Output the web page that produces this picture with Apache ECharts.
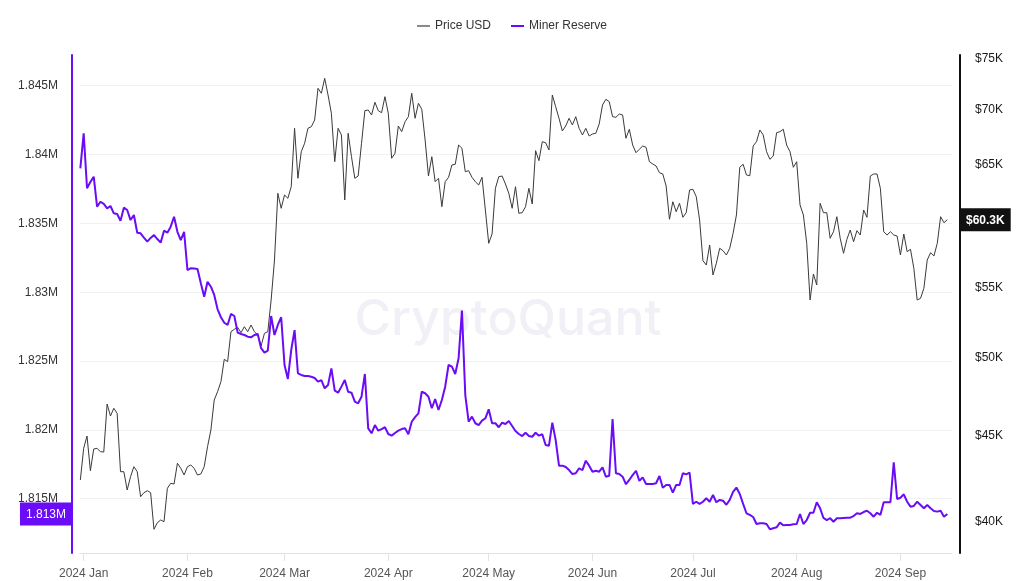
<!DOCTYPE html>
<html>
<head>
<meta charset="utf-8">
<script src="https://cdn.jsdelivr.net/npm/echarts@6/dist/echarts.min.js"></script>
<style>
html,body{margin:0;padding:0;background:#ffffff;}
#chart{width:1024px;height:581px;}
</style>
</head>
<body>
<div id="chart"></div>
<script>
// ---- data (daily, starting 2023-12-31) ----
const startDate = '2023-12-31';
const monthTicks = ['2024-01-01','2024-02-01','2024-03-01','2024-04-01','2024-05-01','2024-06-01','2024-07-01','2024-08-01','2024-09-01'];
const monthNames = ['Jan','Feb','Mar','Apr','May','Jun','Jul','Aug','Sep','Oct','Nov','Dec'];
const reserveTicks = [1815000,1820000,1825000,1830000,1835000,1840000,1845000];
const priceTicks = [40000,45000,50000,55000,60000,65000,70000,75000];

const minerReserve = [
1839000,1841540,1837550,1838000,1838390,1836210,1836570,1836410,1836090,1836260,
1835730,1835680,1835190,1836140,1835970,1835240,1835610,1834320,1834280,1833970,
1833670,1833940,1834150,1833860,1833600,1834470,1834320,1834760,1835480,1834390,
1833790,1834390,1831610,1831740,1831720,1831690,1830650,1829670,1830760,1830400,
1829800,1828760,1828180,1827780,1827620,1828420,1828270,1827060,1826960,1826890,
1826770,1826720,1826890,1826960,1825930,1825610,1825750,1828270,1826890,1827620,
1828180,1824710,1823700,1825800,1827250,1824110,1823990,1823910,1823910,1823860,
1823770,1823500,1823620,1823020,1823260,1824470,1822850,1822700,1823140,1823620,
1822770,1822700,1822050,1821930,1822410,1824060,1820110,1819750,1820350,1819940,
1820060,1820190,1819700,1819580,1819770,1819940,1820060,1820110,1819680,1820590,
1820930,1821200,1822770,1822660,1822410,1821570,1822240,1821440,1822170,1823140,
1824710,1824590,1824060,1825200,1828660,1822530,1820590,1820960,1820480,1820350,
1820670,1820840,1821490,1820480,1820480,1820190,1820520,1820430,1820640,1820280,
1819920,1819700,1819550,1819790,1819550,1819500,1819790,1819580,1819680,1818900,
1818850,1820520,1819260,1817400,1817400,1817300,1817080,1816790,1816850,1817210,
1817080,1817760,1817400,1816960,1817030,1816960,1817280,1816600,1816670,1820790,
1816850,1816790,1816600,1816050,1816360,1816720,1817030,1816290,1816550,1816070,
1816070,1816070,1816120,1816650,1815800,1816000,1816000,1815440,1816000,1816000,
1816850,1816770,1816890,1814620,1814780,1814620,1814780,1815030,1814780,1815270,
1814740,1814910,1814850,1814560,1814910,1815490,1815810,1815340,1814620,1813940,
1813820,1813670,1813160,1813210,1813210,1813160,1812780,1812850,1812920,1813260,
1813070,1813090,1813090,1813140,1813160,1813890,1813160,1813450,1813980,1813980,
1814740,1814300,1813600,1813450,1813580,1813330,1813580,1813580,1813600,1813620,
1813620,1813740,1813940,1813890,1814030,1814130,1813940,1813690,1813980,1813820,
1814740,1814740,1814740,1817640,1814980,1815070,1815320,1814780,1814420,1814470,
1814780,1814540,1814300,1814540,1814300,1814110,1814060,1814130,1813690,1813890
];

const priceUsd = [
42348,44210,44954,42885,44168,44210,44006,43988,46951,46192,
46677,46362,42828,42828,41776,42538,43119,42828,41398,41623,
41737,41623,39606,39962,40109,40016,41873,42158,42118,43318,
43025,42636,43119,43218,43025,42636,42694,43119,44306,45322,
47206,47742,48394,49888,49726,51794,51962,52104,51723,52146,
51794,52267,51794,51562,50798,51681,51794,54071,57089,62501,
61241,62357,62078,63064,68269,63787,66133,66892,68269,68417,
69042,72079,71592,73064,71426,69673,65241,68269,67650,61936,
67807,65686,63787,63986,66892,69920,69986,69512,70722,69920,
69730,71262,69673,65543,65990,68482,67954,68883,69353,71592,
69202,70626,70053,67192,63986,65686,63493,63787,61374,63493,
63874,64950,65012,66737,66439,64361,64449,63874,63493,63209,
63874,61100,58398,59140,62927,63926,63986,63295,62501,61241,
63064,60826,60876,61374,62927,61600,66223,65330,67037,66946,
66286,71426,70300,69202,68018,68482,69202,68576,69353,68269,
67650,68269,67558,67742,67807,68668,70463,71011,70780,69353,
69296,69608,69512,67348,68176,66737,66044,66349,66646,66529,
65241,65038,64862,64274,64161,63123,60333,61793,60959,61658,
60497,60876,62781,62841,62213,60276,57035,56703,58264,55938,
56834,58003,57815,57478,58003,59197,60687,64747,65012,64074,
64013,66646,67037,68111,67650,66133,65454,65749,67862,67954,
68176,66737,66133,64747,65241,61516,60687,58398,54071,56014,
55184,61658,60876,60876,58796,59326,60547,58796,57611,58716,
59463,58526,59406,59060,61100,60497,63986,64161,64161,62927,
59326,59060,59326,59060,58980,57478,59140,57736,57925,56449,
54071,54196,54937,57089,57658,57400,58398,60547,60055,60300
];

// ---- build ----
const DAY = 86400000;
const t0 = Date.parse(startDate + 'T00:00:00Z');
const days = minerReserve.map((_, i) => t0 + i * DAY);
const tickTimes = monthTicks.map(s => Date.parse(s + 'T00:00:00Z'));
const priceTickLogs = priceTicks.map(v => Math.log(v));
const lastReserve = minerReserve[minerReserve.length - 1];
const lastPrice = priceUsd[priceUsd.length - 1];

const PURPLE = '#6a0cf5';
const FONT = '"Liberation Sans", Arial, sans-serif';

const chart = echarts.init(document.getElementById('chart'), null, {renderer: 'canvas'});
chart.setOption({
  animation: false,
  backgroundColor: '#ffffff',
  textStyle: {fontFamily: FONT},
  graphic: [{
    type: 'text', x: 508, y: 320, z: -10, silent: true,
    style: {text: 'CryptoQuant', fontSize: 50, fontFamily: 'Inter, "Open Sans", sans-serif', fontWeight: 500,
            fill: '#f1f0f6', align: 'center', verticalAlign: 'middle'}
  }],
  legend: {
    top: 15, left: 'center', icon: 'rect', itemWidth: 13, itemHeight: 2, itemGap: 20,
    textStyle: {fontSize: 12, color: '#333', fontFamily: FONT},
    data: [{name: 'Price USD', itemStyle: {color: '#8a8a8a'}}, {name: 'Miner Reserve'}]
  },
  grid: {left: 80, right: 72, top: 55, bottom: 28, containLabel: false, outerBoundsMode: 'none'},
  xAxis: {
    type: 'value',
    min: t0 - 0.1 * DAY,
    max: t0 + 260.4 * DAY,
    axisLine: {show: true, lineStyle: {color: '#e3e3e3', width: 1}},
    axisTick: {show: true, length: 8, lineStyle: {color: '#e3e3e3'}, customValues: tickTimes},
    axisLabel: {
      customValues: tickTimes, color: '#555', fontSize: 12, margin: 15, fontFamily: FONT,
      formatter: v => { const d = new Date(v); return d.getUTCFullYear() + ' ' + monthNames[d.getUTCMonth()]; }
    },
    splitLine: {show: false}
  },
  yAxis: [{
    type: 'value', position: 'left', offset: 8,
    min: 1811055, max: 1847230,
    axisLine: {show: true, lineStyle: {color: PURPLE, width: 2}},
    axisTick: {show: false, customValues: reserveTicks},
    axisLabel: {customValues: reserveTicks, color: '#333', fontSize: 12, margin: 14, fontFamily: FONT,
      formatter: v => +(v / 1e6).toFixed(3) + 'M'},
    splitLine: {show: true, lineStyle: {color: '#f1f1f1', width: 1}},
    axisPointer: {
      show: true, type: 'none', status: 'show', value: lastReserve, triggerTooltip: false,
      label: {show: true, margin: 0, backgroundColor: PURPLE, color: '#fff', fontSize: 12, fontFamily: FONT,
        padding: [6, 6, 5, 6], borderRadius: 0,
        formatter: p => (Math.floor(p.value / 1000) / 1000).toFixed(3) + 'M'}
    }
  }, {
    type: 'value', position: 'right', offset: 8,
    min: 10.554545, max: 11.230715,
    axisLine: {show: true, lineStyle: {color: '#111', width: 2}},
    axisTick: {show: false, customValues: priceTickLogs},
    axisLabel: {customValues: priceTickLogs, color: '#1a1a1a', fontSize: 12, margin: 15, fontFamily: FONT,
      formatter: v => '$' + Math.round(Math.exp(v) / 1000) + 'K'},
    splitLine: {show: false},
    axisPointer: {
      show: true, type: 'none', status: 'show', value: Math.log(lastPrice), triggerTooltip: false,
      label: {show: true, margin: 0, backgroundColor: '#111', color: '#fff', fontSize: 12, fontWeight: 'bold',
        fontFamily: FONT, padding: [6, 6, 5, 6], borderRadius: 0,
        formatter: p => '$' + (Math.exp(p.value) / 1000).toFixed(1) + 'K'}
    }
  }],
  series: [{
    name: 'Price USD', type: 'line', yAxisIndex: 1, showSymbol: false, silent: true, z: 2,
    lineStyle: {color: '#3a3a3a', width: 1},
    itemStyle: {color: '#3a3a3a'},
    data: days.map((t, i) => [t, Math.log(priceUsd[i])])
  }, {
    name: 'Miner Reserve', type: 'line', yAxisIndex: 0, showSymbol: false, silent: true, z: 3,
    lineStyle: {color: PURPLE, width: 2},
    itemStyle: {color: PURPLE},
    data: days.map((t, i) => [t, minerReserve[i]])
  }]
});
</script>
</body>
</html>
